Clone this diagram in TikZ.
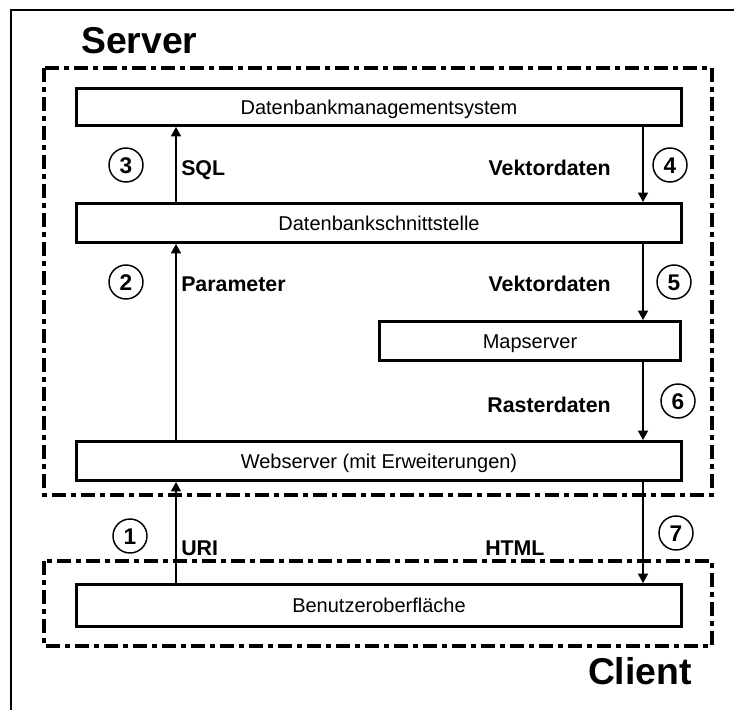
\documentclass[tikz,border=0pt]{standalone}
\usepackage{fontspec}
\setmainfont{Liberation Sans}
\usetikzlibrary{arrows.meta}

\tikzset{
  layer/.style={draw, line width=2pt, minimum width=453.75pt, inner sep=0pt,
    font=\fontsize{15}{18}\selectfont, text height=10.7pt, text depth=0pt},
  zone/.style={line width=2.5pt, dash pattern=on 10.5pt off 3.75pt on 3.75pt off 3.75pt},
  flow/.style={line width=1pt, -{Triangle[length=7pt,width=7.5pt]}},
  lbl/.style={inner sep=0pt, font=\fontsize{16}{19}\selectfont\bfseries},
  stepno/.style={circle, draw, line width=1.1pt, minimum size=25.5pt, inner sep=0pt,
    font=\fontsize{17}{20}\selectfont\bfseries, text height=12.1pt, text depth=0pt},
  title/.style={inner sep=0pt, font=\fontsize{28}{32}\selectfont\bfseries}
}

\begin{document}
\begin{tikzpicture}[x=0.75pt, y=-0.75pt]
  \useasboundingbox (0,0) rectangle (734,710);

  % frame lines
  \draw[line width=2pt] (11,710) -- (11,10) -- (734,10);

  % server and client zones
  \draw[zone] (44,68) rectangle (712,495);
  \draw[zone] (44,561) rectangle (712,646);
  \node[title, anchor=west] (server) at (81,41) {Server};
  \node[title, anchor=east] (client) at (692,671) {Client};

  % layers
  \node[layer, minimum height=28pt] (dbms) at (379,107) {Datenbankmanagementsystem};
  \node[layer, minimum height=29.5pt] (dbif) at (379,223) {Datenbankschnittstelle};
  \node[layer, minimum height=29.5pt, minimum width=226pt] (map) at (530,341) {Mapserver};
  \node[layer, minimum height=29.5pt] (web) at (379,461) {Webserver (mit Erweiterungen)};
  \node[layer, minimum height=31.7pt] (ui) at (379,605.5) {Benutzeroberfläche};

  % columns of the request and response flows
  \coordinate (up) at (176,0);
  \coordinate (down) at (643,0);

  % requests
  \draw[flow] (ui.north -| up) -- (web.south -| up);
  \draw[flow] (web.north -| up) -- (dbif.south -| up);
  \draw[flow] (dbif.north -| up) -- (dbms.south -| up);

  % responses
  \draw[flow] (dbms.south -| down) -- (dbif.north -| down);
  \draw[flow] (dbif.south -| down) -- (map.north -| down);
  \draw[flow] (map.south -| down) -- (web.north -| down);
  \draw[flow] (web.south -| down) -- (ui.north -| down);

  % flow labels
  \node[lbl, anchor=base west] (lsql) at (181,175) {SQL};
  \node[lbl, anchor=base west] (lpar) at (181,291) {Parameter};
  \node[lbl, anchor=base west] (luri) at (181,555) {URI};
  \node[lbl, anchor=base east] (lvek1) at (611,175) {Vektordaten};
  \node[lbl, anchor=base east] (lvek2) at (611,291) {Vektordaten};
  \node[lbl, anchor=base east] (lras) at (611,412) {Rasterdaten};
  \node[lbl, anchor=base west] (lhtml) at (485,555) {HTML};

  % step numbers
  \node[stepno] (s1) at (130,536) {1};
  \node[stepno] (s2) at (126,282) {2};
  \node[stepno] (s3) at (126,165) {3};
  \node[stepno] (s4) at (670,165) {4};
  \node[stepno] (s5) at (674,282) {5};
  \node[stepno] (s6) at (678,401) {6};
  \node[stepno] (s7) at (676,533) {7};
\end{tikzpicture}
\end{document}
